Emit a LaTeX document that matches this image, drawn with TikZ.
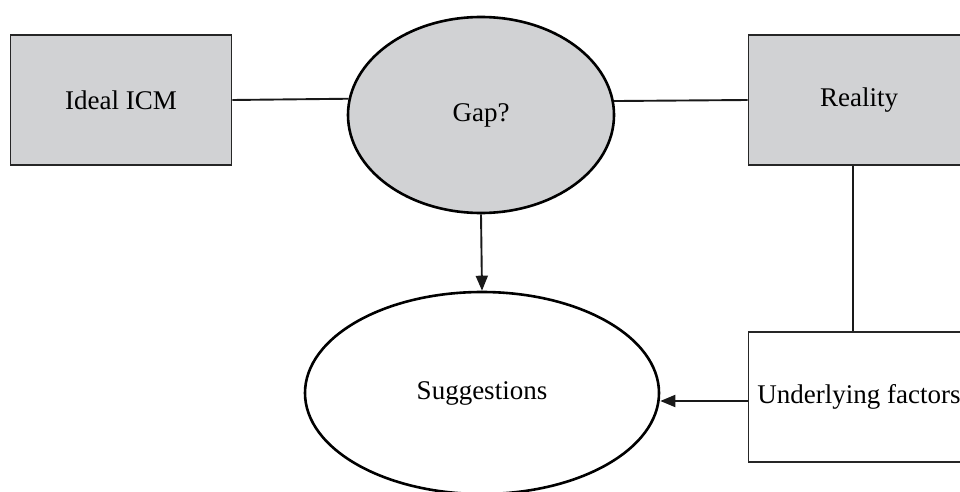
\documentclass[tikz,border=0pt]{standalone}
\usepackage{fontspec}
\setmainfont{Liberation Serif}
\usetikzlibrary{arrows.meta,shapes.geometric}
\definecolor{boxgray}{RGB}{209,210,212}
\begin{document}
\begin{tikzpicture}[x=1pt,y=-1pt,
  every node/.style={font=\fontsize{27}{32}\selectfont, inner sep=0pt},
  graybox/.style={draw=black!85, line width=1.6pt, fill=boxgray, minimum width=221pt, minimum height=130pt},
  whitebox/.style={draw=black!85, line width=1.6pt, fill=white, minimum width=221pt, minimum height=130pt},
  oval/.style={ellipse, draw=black, line width=2.6pt},
  link/.style={draw=black!90, line width=1.9pt},
  arr/.style={link, -{Triangle[length=15pt,width=12pt]}}]
\useasboundingbox (0,0) rectangle (960,492);
\node[graybox] (ideal) at (121,100) {Ideal ICM};
\node[oval, fill=boxgray, minimum width=266pt, minimum height=196pt] (gap) at (481,115) {\raisebox{-2pt}{Gap?}};
\node[graybox] (reality) at (859,100) {Reality};
\node[whitebox, minimum width=221pt] (under) at (859,397) {Underlying factors};
\node[oval, fill=white, minimum width=354pt, minimum height=202pt] (sug) at (482,393) {\raisebox{-3pt}{Suggestions}};
\draw[link] (ideal.east) -- (gap.173.5);
\draw[link] (gap.6.5) -- (reality.west);
\draw[link] ([xshift=-6pt]reality.south) -- ([xshift=-6pt]under.north);
\draw[arr] (gap.south) -- (sug.north);
\draw[arr] ([yshift=-4pt]under.west) -- ([yshift=-4pt]under.west -| sug.east);
\end{tikzpicture}
\end{document}
